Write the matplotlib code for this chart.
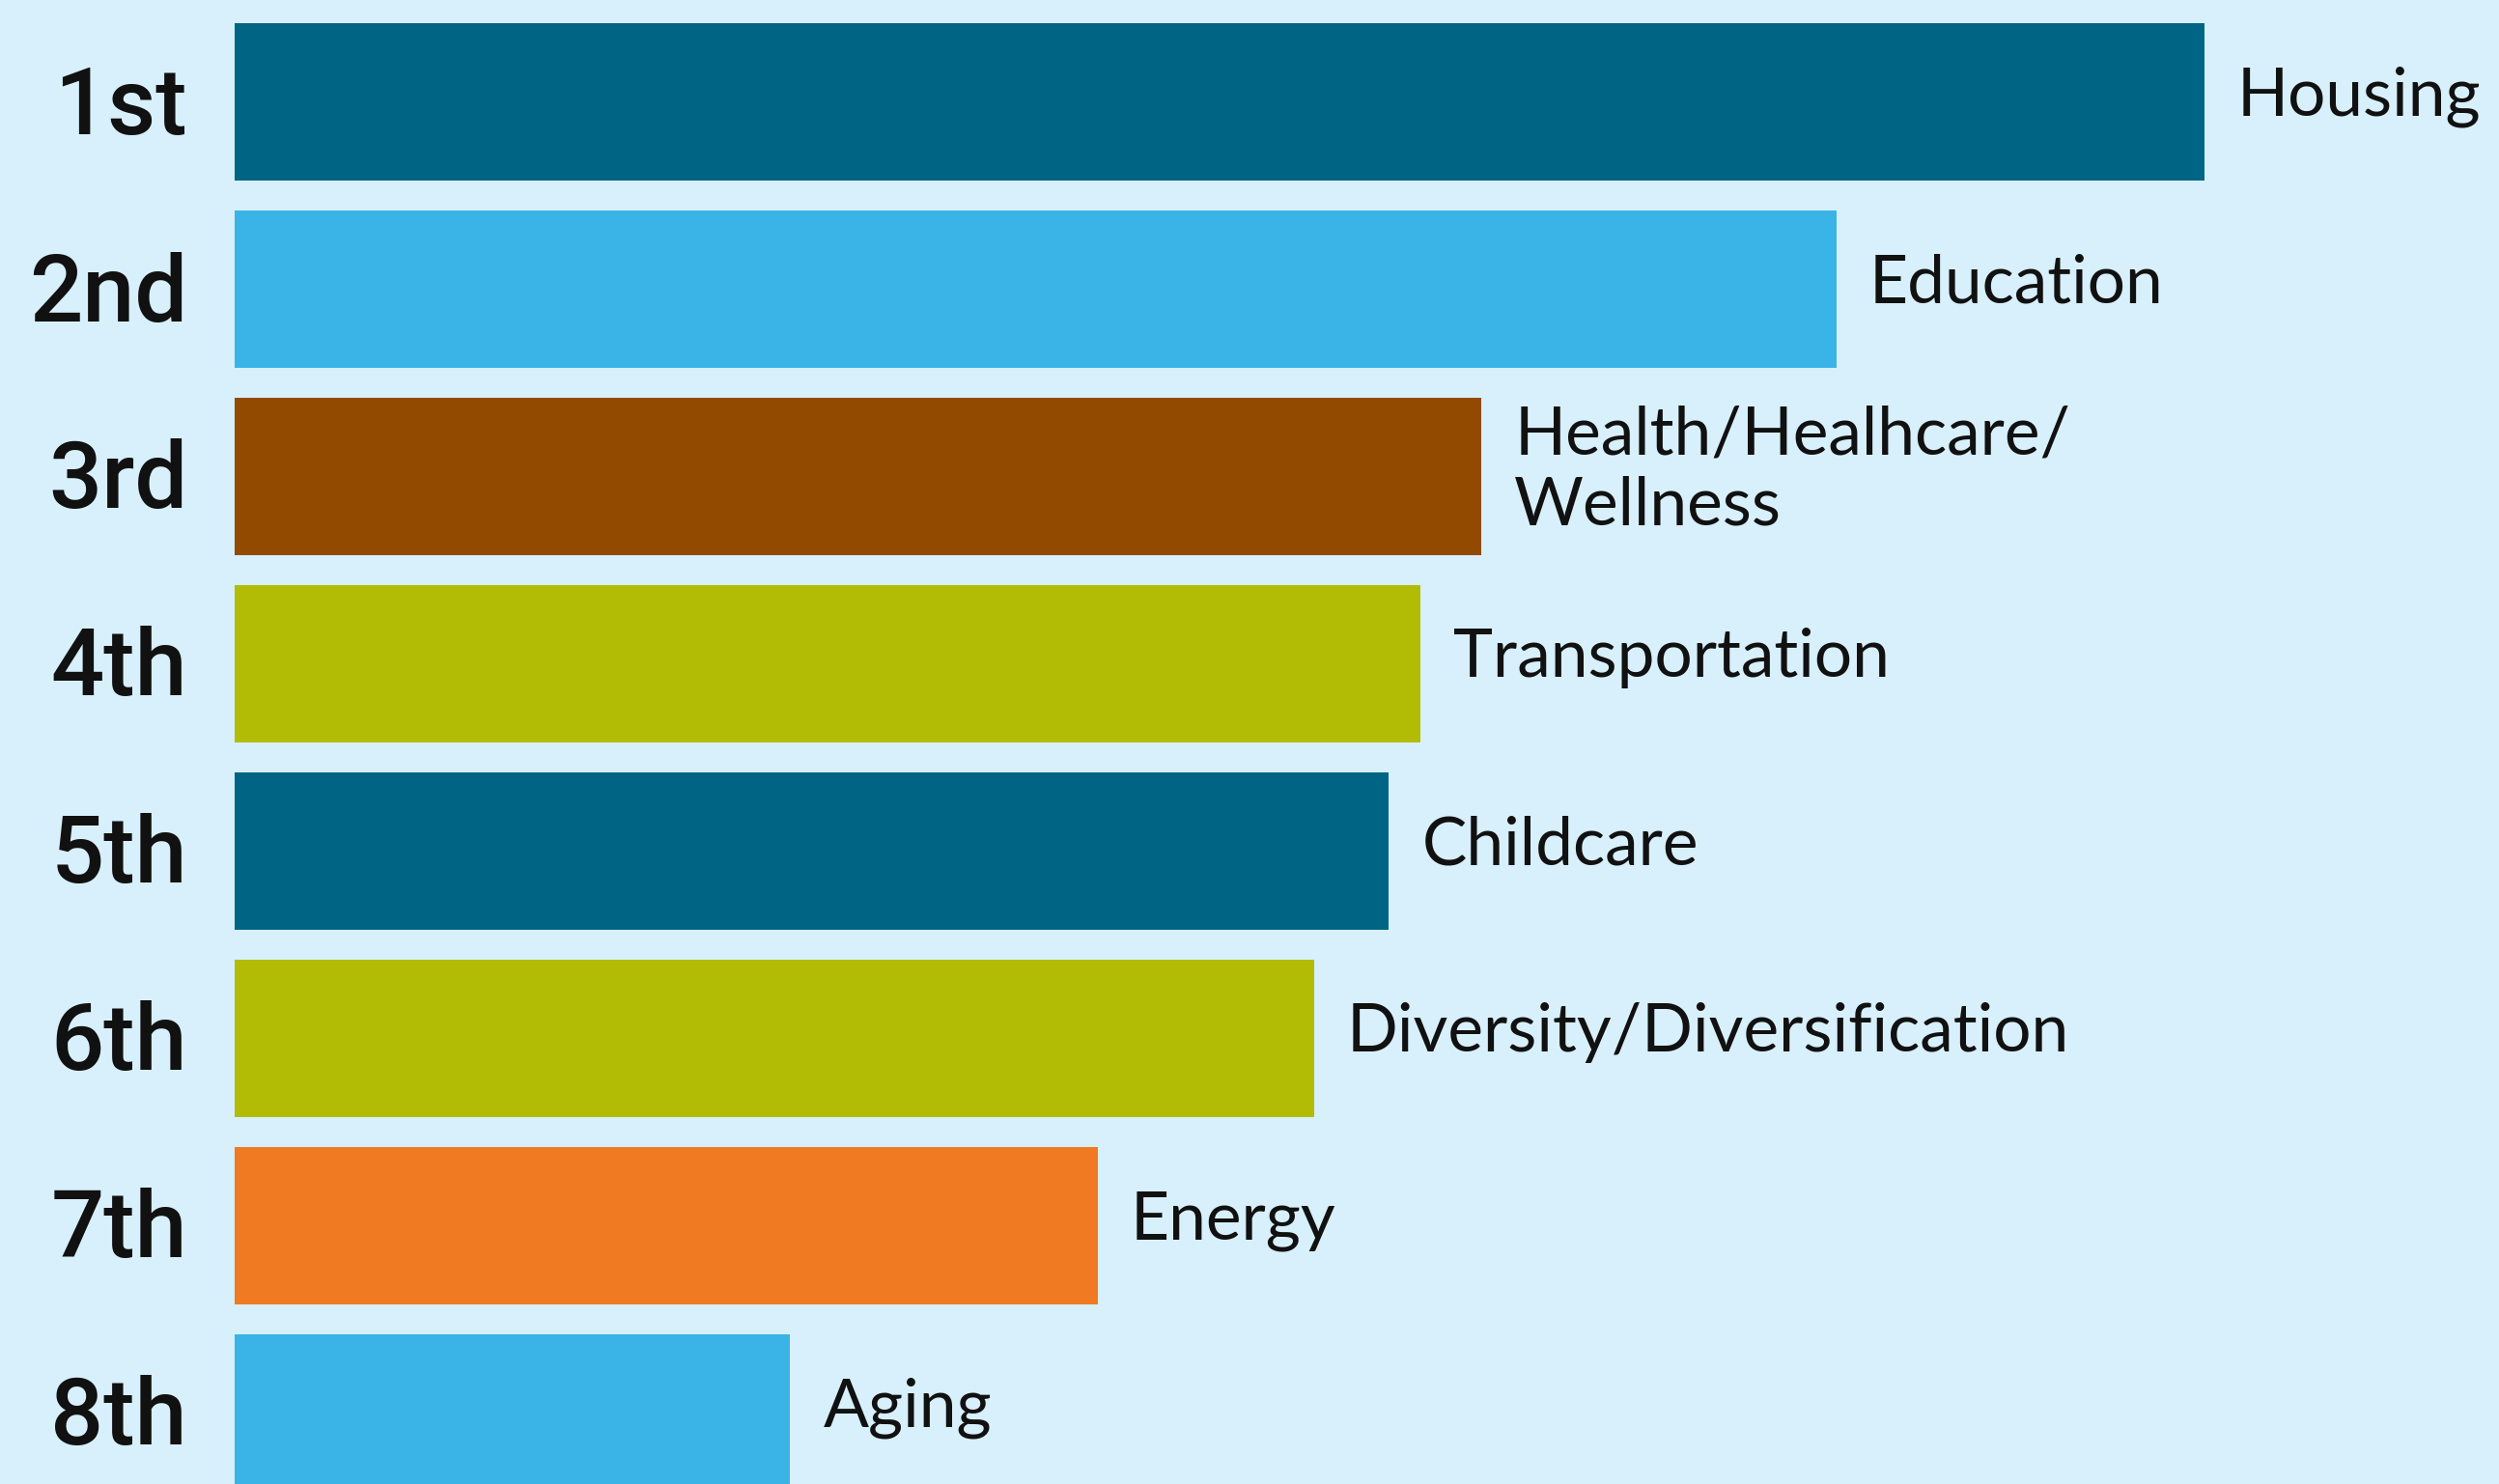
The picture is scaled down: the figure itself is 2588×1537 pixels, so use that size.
import matplotlib.pyplot as plt

# ranking of priorities, top to bottom
ranks = ['1st', '2nd', '3rd', '4th', '5th', '6th', '7th', '8th']
topics = ['Housing', 'Education', 'Health/Healhcare/\nWellness', 'Transportation',
          'Childcare', 'Diversity/Diversification', 'Energy', 'Aging']
scores = [100, 81.3, 63.3, 60.2, 58.6, 54.8, 43.8, 28.2]
colours = ['#006484', '#3AB4E6', '#914A00', '#B3BC04',
           '#006484', '#B3BC04', '#F07A22', '#3AB4E6']

bg = '#D7F0FB'

fig = plt.figure(figsize=(25.88, 15.37), dpi=100, facecolor=bg)
ax = fig.add_axes([0, 0, 1, 1], facecolor=bg)

pos = list(range(len(ranks)))
ax.barh(pos, scores, height=0.84, color=colours, left=0)

ax.set_xlim(-11.91, 114.95)
ax.set_ylim(7.379, -0.544)
ax.axis('off')

# rank labels on the left
for p, r in zip(pos, ranks):
    ax.text(-2.4, p + 0.17, r, ha='right', va='baseline', fontsize=70,
            fontweight='medium', family='Roboto', color='#111111')

# topic labels right of the bars
for p, t, s in zip(pos, topics, scores):
    if '\n' in t:
        ax.text(s + 1.67, p - 0.03, t, ha='left', va='center', fontsize=50,
                family='Lato', color='#111111', linespacing=1.2)
    else:
        ax.text(s + 1.67, p + 0.072, t, ha='left', va='baseline', fontsize=50,
                family='Lato', color='#111111')

fig.savefig('out.png', dpi=100, facecolor=bg)
